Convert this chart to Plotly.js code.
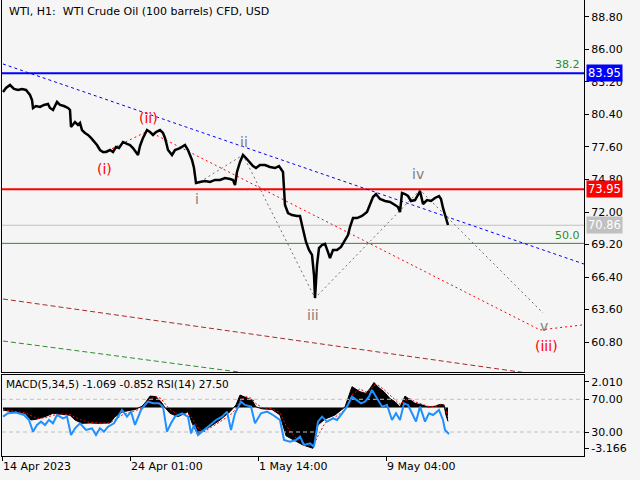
<!DOCTYPE html>
<html>
<head>
<meta charset="utf-8">
<script src="https://cdn.plot.ly/plotly-3.0.1.min.js"></script>
<style>
  html, body { margin: 0; padding: 0; background: #f5f5f5; }
  #chart { width: 640px; height: 480px; }
</style>
</head>
<body>
<div id="chart"></div>
<script>
// price (H1 closes), x = bar number
const priceX = [3,6,10,14,18,22,26,28,30,32,33,36,40,44,48,50,53,57,60,64,68,70,71,75,78,80,82,85,88,91,95,97,100,103,106,110,113,116,119,123,127,130,133,136,138,140,143,147,150,153,156,160,163,165,168,172,175,180,185,188,192,194,196,200,205,210,215,220,225,230,233,235,237,240,243,246,250,253,256,260,265,270,275,279,283,285,288,292,297,300,302,304,306,309,312,314,315,317,319,322,325,328,330,333,337,341,345,348,350,353,357,362,367,370,373,376,380,385,390,395,398,400,402,405,408,411,415,418,420,423,427,431,435,439,441,443,445,447,448];
const priceClose = [82.34,82.68,82.94,82.60,82.51,82.60,82.51,82.34,82.08,81.65,80.96,81.13,81.05,81.22,81.30,80.96,80.79,81.48,81.22,81.13,80.96,80.79,79.32,79.75,79.50,79.67,79.06,78.81,78.64,78.38,78.03,77.77,77.34,77.17,77.17,77.34,77.17,77.60,77.51,78.03,77.86,77.77,77.51,77.17,76.91,77.69,78.38,79.06,78.89,78.64,78.89,79.06,78.81,78.38,77.34,76.91,77.34,77.51,77.77,77.34,76.48,75.79,74.50,74.59,74.67,74.59,74.76,74.76,74.93,74.84,74.76,74.33,75.45,76.31,76.91,76.65,76.22,75.96,75.79,76.05,76.05,75.88,75.79,75.96,75.45,72.60,71.91,71.74,71.66,71.66,70.88,70.01,69.42,68.73,68.30,66.57,64.59,67.43,68.90,69.16,69.25,68.55,68.04,68.73,68.73,68.99,69.59,70.01,70.71,71.48,71.48,71.66,72.00,72.60,73.29,73.55,73.12,72.95,72.86,72.60,72.43,72.00,73.64,73.55,73.38,72.95,73.03,73.47,73.81,72.69,73.03,72.95,73.21,73.38,73.12,72.35,71.74,71.31,70.88];

// horizontal levels
const levelFibo382 = 83.95;
const levelResist = 73.95;
const levelLast = 70.86;
const levelFibo50 = 69.30;

// trend / wave lines
const blueTrendX = [3, 584];
const blueTrendY = [84.75, 67.52];
const redWaveX = [103, 148, 540, 582];
const redWaveY = [77.08, 78.98, 61.84, 62.27];
const subWaveX = [200, 243, 315, 420, 543];
const subWaveY = [74.60, 76.91, 64.59, 73.90, 63.30];
const brownTrendX = [3, 584];
const brownTrendY = [64.51, 57.44];
const greenTrendX = [3, 260];
const greenTrendY = [60.89, 57.98];

// wave labels
const waveText = ['(i)', '(ii)', 'i', 'ii', 'iii', 'iv', 'v', '(iii)'];
const waveX = [104, 148, 197, 244, 313, 418, 544, 546];
const waveY = [75.70, 80.10, 73.12, 78.03, 63.13, 75.27, 62.18, 60.46];
const waveColor = ['red', 'red', 'gray', 'gray', 'gray', 'gray', 'gray', 'red'];

// MACD(5,34,5)
const macdX = [3,10,18,25,31,37,45,53,62,70,75,82,90,98,110,115,123,135,142,146,150,156,161,165,170,178,188,192,198,204,210,220,230,236,240,246,252,256,262,272,280,286,295,303,313,318,325,335,345,352,360,366,370,374,378,384,390,395,400,405,410,415,422,428,435,440,444,446,448];
const macdMain = [-0.2,-0.3,-0.4,-0.45,-0.97,-0.9,-0.71,-0.45,-0.5,-0.6,-0.97,-1.23,-1.2,-1.23,-1.2,-0.71,-0.32,-0.15,0.1,0.45,0.89,0.85,0.45,0.0,-0.45,-0.71,-0.32,-1.2,-2.14,-1.75,-1.49,-0.97,-0.32,0.2,0.97,0.8,0.58,0.05,-0.1,-0.15,-0.58,-2.2,-2.6,-2.92,-3.17,-1.36,-0.9,-0.58,0.05,1.62,1.23,1.1,1.49,1.95,1.6,1.23,0.7,0.45,0.05,0.89,0.6,0.33,0.2,0.05,0.1,0.25,0.2,-0.6,-1.07];
const macdSignal = [-0.15,-0.25,-0.35,-0.4,-0.6,-0.85,-0.8,-0.6,-0.5,-0.55,-0.75,-1.0,-1.15,-1.2,-1.2,-0.95,-0.55,-0.25,-0.05,0.25,0.65,0.85,0.7,0.3,-0.15,-0.55,-0.5,-0.8,-1.6,-1.9,-1.6,-1.15,-0.6,-0.1,0.55,0.85,0.7,0.3,0.0,-0.1,-0.4,-1.4,-2.3,-2.8,-3.05,-2.2,-1.2,-0.75,-0.2,1.0,1.45,1.2,1.35,1.75,1.75,1.4,0.95,0.6,0.25,0.55,0.7,0.45,0.25,0.1,0.08,0.2,0.22,-0.2,-0.85];

// RSI(14)
const rsiX = [3,8,16,24,29,33,37,41,45,49,53,57,63,67,71,75,80,86,92,96,100,104,108,114,118,122,127,131,135,141,145,148,153,159,163,167,171,175,182,188,191,194,198,202,208,212,216,222,227,231,235,241,245,251,255,261,267,273,280,284,290,296,300,304,310,314,318,322,327,333,337,341,347,352,357,361,365,369,372,376,382,387,392,396,400,404,408,412,416,420,425,429,433,439,443,445,449];
const rsiV = [48.8,52.9,53.7,50.8,44.7,30.4,38.6,42.7,38.6,44.7,40.6,50.8,46.7,48.8,26.3,34.5,40.6,32.5,34.5,26.3,34.5,30.4,36.5,40.6,48.8,56.9,48.8,54.9,38.6,56.9,63.1,67.1,65.1,65.1,61.0,30.4,40.6,48.8,52.9,48.8,28.4,38.6,26.3,30.4,36.5,40.6,44.7,48.8,54.9,32.5,52.9,67.1,63.1,61.0,40.6,52.9,54.9,50.8,44.7,20.2,18.2,20.2,24.3,14.1,16.1,12.1,42.7,48.8,42.7,46.7,44.7,50.8,61.0,73.3,69.2,65.1,67.1,73.3,81.4,73.3,61.0,63.1,44.7,52.9,44.7,65.1,63.1,52.9,42.7,61.0,42.7,52.9,50.8,56.9,44.7,32.5,27.5];

// axis ticks
const priceTicks = [60.8, 63.6, 66.4, 69.2, 72.0, 74.8, 77.6, 80.4, 83.2, 86.0, 88.8];
const dateTickX = [2, 130, 258, 386];
const dateTickText = ['14 Apr 2023', '24 Apr 01:00', '1 May 14:00', '9 May 04:00'];

const FONT = 'DejaVu Sans, Tahoma, sans-serif';
const X0 = 2, X1 = 584;

function level(y, color, width) {
  return { x: [X0, X1], y: [y, y], mode: 'lines', line: { color: color, width: width }, xaxis: 'x', yaxis: 'y' };
}
function dashed(x, y, color, dash, width) {
  return { x: x, y: y, mode: 'lines', line: { color: color, width: width || 1, dash: dash }, xaxis: 'x', yaxis: 'y' };
}

const traces = [
  dashed(greenTrendX, greenTrendY, '#2e8b2e', '5px,3px'),
  dashed(brownTrendX, brownTrendY, '#a52a2a', '5px,3px'),
  level(levelFibo50, '#2e8b2e', 1),
  level(levelLast, '#c0c0c0', 1),
  level(levelFibo382, '#0000ff', 2),
  level(levelResist, '#ff0000', 2),
  dashed(blueTrendX, blueTrendY, '#0000ff', '3px,3px'),
  dashed(redWaveX, redWaveY, '#ff0000', '2px,3px'),
  dashed(subWaveX, subWaveY, '#707070', '2px,3px'),
  { x: priceX, y: priceClose, mode: 'lines', line: { color: '#000000', width: 2.5 }, xaxis: 'x', yaxis: 'y' },
  // MACD panel
  { x: [X0, X1], y: [70, 70], mode: 'lines', line: { color: '#c0c0c0', width: 1, dash: '4px,3px' }, xaxis: 'x2', yaxis: 'y3' },
  { x: [X0, X1], y: [30, 30], mode: 'lines', line: { color: '#c0c0c0', width: 1, dash: '4px,3px' }, xaxis: 'x2', yaxis: 'y3' },
  { x: macdX, y: macdMain, mode: 'lines', fill: 'tozeroy', fillcolor: '#000000', line: { color: '#000000', width: 1 }, xaxis: 'x2', yaxis: 'y2' },
  { x: macdX, y: macdSignal, mode: 'lines', line: { color: '#ff0000', width: 1, dash: '2px,2px' }, xaxis: 'x2', yaxis: 'y2' },
  { x: rsiX, y: rsiV, mode: 'lines', line: { color: '#1e90ff', width: 2 }, xaxis: 'x2', yaxis: 'y3' }
];

const annotations = [
  { text: 'WTI, H1:  WTI Crude Oil (100 barrels) CFD, USD', xref: 'paper', yref: 'y domain', x: 0.008, y: 0.968,
    xanchor: 'left', yanchor: 'middle', showarrow: false, font: { family: FONT, size: 11, color: '#000' } },
  { text: 'MACD(5,34,5) -1.069 -0.852 RSI(14) 27.50', xref: 'paper', yref: 'y2 domain', x: 0.004, y: 0.89,
    xanchor: 'left', yanchor: 'middle', showarrow: false, font: { family: FONT, size: 10.5, color: '#000' } },
  { text: '38.2', xref: 'paper', yref: 'y', x: 0.997, y: levelFibo382, yshift: 9, xanchor: 'right', yanchor: 'middle',
    showarrow: false, font: { family: FONT, size: 11, color: '#2e8b2e' } },
  { text: '50.0', xref: 'paper', yref: 'y', x: 0.997, y: levelFibo50, yshift: 8, xanchor: 'right', yanchor: 'middle',
    showarrow: false, font: { family: FONT, size: 11, color: '#2e8b2e' } }
];

[[levelFibo382, '#0000ff'], [levelResist, '#ff0000'], [levelLast, '#c0c0c0']].forEach(function (t) {
  annotations.push({ text: t[0].toFixed(2), xref: 'paper', yref: 'y', x: 1, y: t[0], xanchor: 'left', yanchor: 'middle',
    xshift: 2, showarrow: false, bgcolor: t[1], borderpad: 1,
    font: { family: FONT, size: 11.5, color: '#ffffff' } });
});

waveText.forEach(function (t, i) {
  annotations.push({ text: t, x: waveX[i], y: waveY[i], xref: 'x', yref: 'y', showarrow: false,
    font: { family: FONT, size: 14, color: waveColor[i] } });
});

const axFont = { family: FONT, size: 11, color: '#000' };

const layout = {
  width: 640, height: 480,
  margin: { l: 2, r: 56, t: 0, b: 24 },
  paper_bgcolor: '#f5f5f5', plot_bgcolor: '#f5f5f5',
  showlegend: false,
  hovermode: false,
  xaxis: { domain: [0, 1], range: [X0, X1], anchor: 'y', showgrid: false, zeroline: false,
    showticklabels: false, ticks: '', showline: true, mirror: true, linecolor: '#000', linewidth: 1 },
  yaxis: { domain: [0.1842, 1], range: [58.22, 90.26], side: 'right', anchor: 'x', showgrid: false, zeroline: false,
    tickvals: priceTicks, tickformat: '.2f', ticks: 'outside', ticklen: 4, tickcolor: '#000',
    tickfont: axFont, showline: true, mirror: true, linecolor: '#000', linewidth: 1 },
  xaxis2: { domain: [0, 1], range: [X0, X1], anchor: 'y2', matches: 'x', showgrid: false, zeroline: false,
    tickvals: dateTickX, ticktext: dateTickText, ticks: 'outside', ticklen: 4, tickcolor: '#000',
    ticklabelposition: 'outside right', tickfont: axFont,
    showline: true, mirror: true, linecolor: '#000', linewidth: 1 },
  yaxis2: { domain: [0, 0.1776], range: [-3.77, 2.53], side: 'right', anchor: 'x2', showgrid: false, zeroline: false,
    tickvals: [2.010, -3.166], ticktext: ['2.010', '-3.166'], ticks: 'outside', ticklen: 4, tickcolor: '#000',
    tickfont: axFont, showline: true, mirror: true, linecolor: '#000', linewidth: 1 },
  yaxis3: { domain: [0, 0.1776], range: [0.65, 99.7], side: 'right', anchor: 'x2', overlaying: 'y2',
    showgrid: false, zeroline: false, tickvals: [70, 30], ticktext: ['70.00', '30.00'],
    ticks: 'outside', ticklen: 4, tickcolor: '#000', tickfont: axFont, showline: false },
  annotations: annotations
};

Plotly.newPlot('chart', traces, layout, { staticPlot: true, displayModeBar: false });
</script>
</body>
</html>
